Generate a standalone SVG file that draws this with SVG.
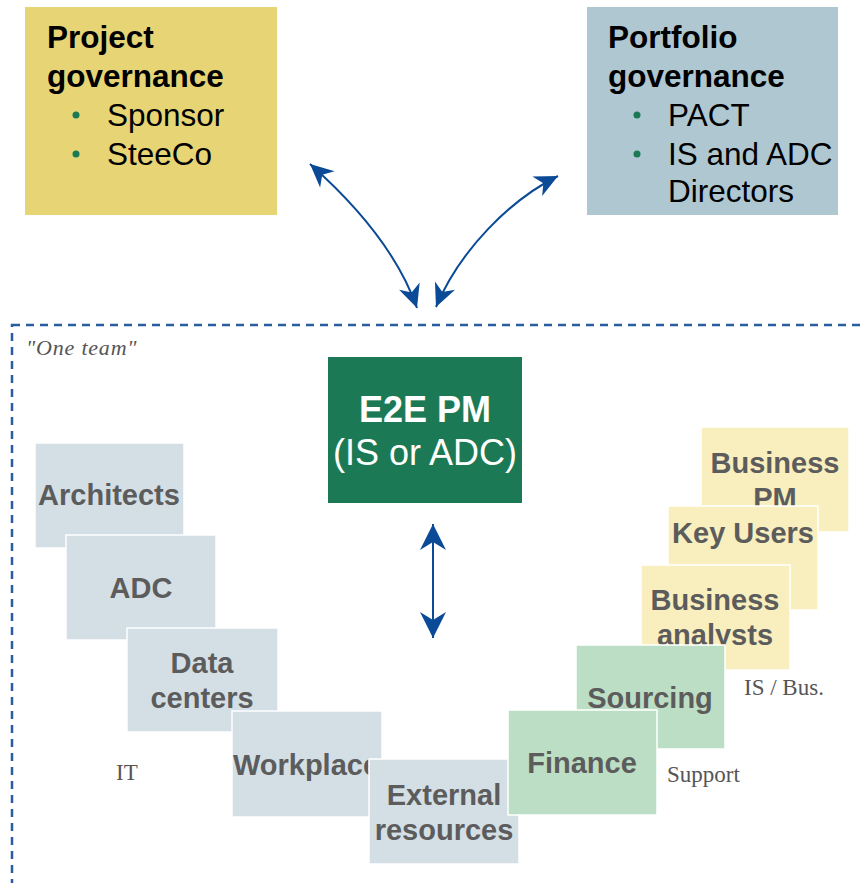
<svg xmlns="http://www.w3.org/2000/svg" width="866" height="883" viewBox="0 0 866 883">
<defs>
<style>
.gov{font-family:"Liberation Sans",Arial,sans-serif;font-size:31.5px;fill:#000}
.govt{font-weight:bold}
.dot{fill:#1B7A55}
.box{stroke:#fff;stroke-width:1.5}
.gray{fill:#D3DFE5}
.yel{fill:#F8EEBE}
.grn{fill:#BCDEC4}
.lbl{font-family:"Liberation Sans",Arial,sans-serif;font-size:29px;font-weight:bold;fill:#5C5C5C;text-anchor:middle}
.note{font-family:"Liberation Serif","Times New Roman",serif;font-size:23px;fill:#555}
.conn{fill:none;stroke:#0B4A96;stroke-width:2}
</style>
<marker id="ah" markerUnits="userSpaceOnUse" markerWidth="30" markerHeight="30" viewBox="-20 -10 22 20" refX="0" refY="0" orient="auto-start-reverse">
<path d="M0,0 L-17,-8 L-12,0 L-17,8 Z" fill="#0B4A96"/>
</marker>
<marker id="ahb" markerUnits="userSpaceOnUse" markerWidth="30" markerHeight="30" viewBox="-28 -15 30 30" refX="0" refY="0" orient="auto-start-reverse">
<path d="M0,0 L-26,-13 L-18,0 L-26,13 Z" fill="#0B4A96"/>
</marker>
</defs>
<rect width="866" height="883" fill="#fff"/>

<g id="project-governance">
<rect x="25" y="7" width="252" height="208" fill="#E6D475"/>
<text class="gov govt" x="47" y="48">Project</text>
<text class="gov govt" x="47" y="87">governance</text>
<circle class="dot" cx="76" cy="115" r="3.5"/>
<text class="gov" x="107" y="126">Sponsor</text>
<circle class="dot" cx="76" cy="154" r="3.5"/>
<text class="gov" x="107" y="165">SteeCo</text>
</g>

<g id="portfolio-governance">
<rect x="587" y="7" width="251" height="208" fill="#AFC7D0"/>
<text class="gov govt" x="608" y="48">Portfolio</text>
<text class="gov govt" x="608" y="87">governance</text>
<circle class="dot" cx="637" cy="115" r="3.5"/>
<text class="gov" x="668" y="126">PACT</text>
<circle class="dot" cx="637" cy="154" r="3.5"/>
<text class="gov" x="668" y="165">IS and ADC</text>
<text class="gov" x="668" y="202">Directors</text>
</g>

<g id="one-team">
<rect x="12" y="325" width="900" height="620" fill="none" stroke="#2A5DA0" stroke-width="2.5" stroke-dasharray="8 6"/>
<text x="26" y="355" font-family="'Liberation Serif','Times New Roman',serif" font-style="italic" font-size="22" letter-spacing="0.8" fill="#555">"One team"</text>
</g>

<g id="e2e-pm">
<rect x="328" y="357" width="194" height="146" fill="#1B7A55"/>
<text x="425" y="422" font-family="'Liberation Sans',Arial,sans-serif" font-size="36" font-weight="bold" fill="#fff" text-anchor="middle">E2E PM</text>
<text x="425" y="465" font-family="'Liberation Sans',Arial,sans-serif" font-size="36" fill="#fff" text-anchor="middle">(IS or ADC)</text>
</g>

<g id="architects">
<rect class="box gray" x="35" y="443" width="149" height="105"/>
<text class="lbl" x="109" y="505">Architects</text>
</g>
<g id="adc">
<rect class="box gray" x="66" y="535" width="150" height="105"/>
<text class="lbl" x="141" y="598">ADC</text>
</g>
<g id="data-centers">
<rect class="box gray" x="127" y="628" width="151" height="104"/>
<text class="lbl" x="202" y="673">Data</text>
<text class="lbl" x="202" y="708">centers</text>
</g>
<g id="workplace">
<rect class="box gray" x="232" y="711" width="150" height="106"/>
<text class="lbl" x="306" y="775">Workplace</text>
</g>
<g id="external-resources">
<rect class="box gray" x="369" y="759" width="150" height="105"/>
<text class="lbl" x="444" y="805">External</text>
<text class="lbl" x="444" y="840">resources</text>
</g>

<g id="business-pm">
<rect class="box yel" x="701" y="427" width="148" height="105"/>
<text class="lbl" x="775" y="473">Business</text>
<text class="lbl" x="775" y="508">PM</text>
</g>
<g id="key-users">
<rect class="box yel" x="668" y="506" width="150" height="104"/>
<text class="lbl" x="743" y="543">Key Users</text>
</g>
<g id="business-analysts">
<rect class="box yel" x="641" y="565" width="149" height="105"/>
<text class="lbl" x="715" y="610">Business</text>
<text class="lbl" x="715" y="645">analysts</text>
</g>
<g id="sourcing">
<rect class="box grn" x="576" y="645" width="149" height="104"/>
<text class="lbl" x="650" y="708">Sourcing</text>
</g>
<g id="finance">
<rect class="box grn" x="508" y="710" width="149" height="105"/>
<text class="lbl" x="582" y="773">Finance</text>
</g>

<g id="labels">
<text class="note" x="116" y="780">IT</text>
<text class="note" x="667" y="782">Support</text>
<text class="note" x="744" y="695">IS / Bus.</text>
</g>

<g id="connectors">
<path class="conn" d="M310,164 C345,195 395,245 417,308" marker-start="url(#ah)" marker-end="url(#ah)"/>
<path class="conn" d="M558,176 C510,200 460,250 436,307" marker-start="url(#ah)" marker-end="url(#ah)"/>
<path class="conn" d="M433,524 L433,638" marker-start="url(#ahb)" marker-end="url(#ahb)"/>
</g>
</svg>
